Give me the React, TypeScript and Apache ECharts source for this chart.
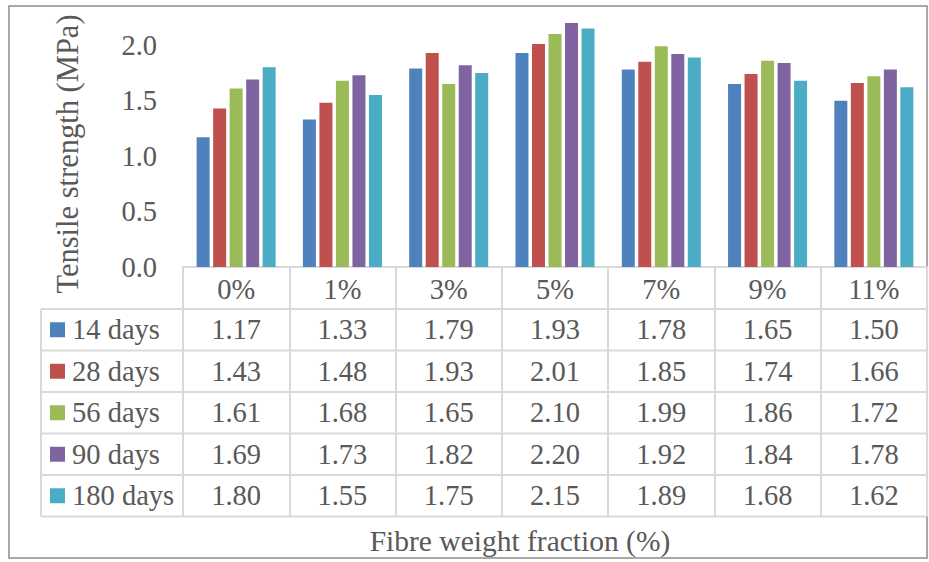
import React, { useEffect, useRef } from "react";
import * as echarts from "echarts";

const categories = ["0%", "1%", "3%", "5%", "7%", "9%", "11%"];
const seriesNames = ["14 days", "28 days", "56 days", "90 days", "180 days"];
const d14 = [1.17, 1.33, 1.79, 1.93, 1.78, 1.65, 1.5];
const d28 = [1.43, 1.48, 1.93, 2.01, 1.85, 1.74, 1.66];
const d56 = [1.61, 1.68, 1.65, 2.1, 1.99, 1.86, 1.72];
const d90 = [1.69, 1.73, 1.82, 2.2, 1.92, 1.84, 1.78];
const d180 = [1.8, 1.55, 1.75, 2.15, 1.89, 1.68, 1.62];
const seriesData = [d14, d28, d56, d90, d180];
const colors = ["#4F81BD", "#C0504D", "#9BBB59", "#8064A2", "#4BACC6"];
const yTitle = "Tensile strength (MPa)";
const xTitle = "Fibre weight fraction (%)";

const W = 929;
const H = 562;
const FONT = "Liberation Serif";
const TXT = "#595959";
const LINE = "#d9d9d9";
const FS = 28.5;

export default function App() {
  const ref = useRef<HTMLDivElement>(null);
  useEffect(() => {
    document.body.style.margin = "0";
    if (!ref.current) return;
    const chart = echarts.init(ref.current, undefined, { renderer: "svg" });

    const gridLeft = 183;
    const gridRightX = 927;
    const axisY = 267;
    const headerH = 42;
    const rowH = 41.5;
    const tableLeft = 41;
    const bandW = (gridRightX - gridLeft) / categories.length;
    const rowsTop = axisY + headerH;
    const tableBottom = rowsTop + rowH * seriesNames.length;

    const txt = (text: string, x: number, y: number, size: number, align: string, extra: any = {}) => ({
      type: "text",
      x,
      y,
      ...extra,
      style: {
        text,
        fontFamily: FONT,
        fontSize: size,
        fill: TXT,
        align,
        verticalAlign: "middle",
      },
      silent: true,
    });

    const graphics: any[] = [];
    graphics.push({
      type: "rect",
      shape: { x: 9, y: 6, width: 918, height: 552 },
      style: { fill: "none", stroke: "#8c8c8c", lineWidth: 1.5 },
      silent: true,
    });
    for (let i = 0; i <= seriesNames.length; i++) {
      const y = rowsTop + i * rowH;
      graphics.push({
        type: "line",
        shape: { x1: tableLeft, y1: y, x2: gridRightX, y2: y },
        style: { stroke: LINE, lineWidth: 2 },
        silent: true,
      });
    }
    graphics.push({
      type: "line",
      shape: { x1: tableLeft, y1: rowsTop, x2: tableLeft, y2: tableBottom },
      style: { stroke: LINE, lineWidth: 2 },
      silent: true,
    });
    seriesNames.forEach((name, si) => {
      const cy = rowsTop + si * rowH + rowH / 2;
      graphics.push({
        type: "rect",
        shape: { x: 50, y: cy - 7.5, width: 15, height: 15 },
        style: { fill: colors[si] },
        silent: true,
      });
      graphics.push(txt(name, 72, cy, FS, "left"));
      seriesData[si].forEach((v, ci) => {
        graphics.push(txt(v.toFixed(2), gridLeft + bandW * ci + bandW / 2, cy, FS, "center"));
      });
    });
    graphics.push(txt(yTitle, 68, 154, 30.5, "center", { rotation: Math.PI / 2 }));
    graphics.push(txt(xTitle, 520, 541, 29.5, "center"));

    chart.setOption({
      animation: false,
      backgroundColor: "#ffffff",
      textStyle: { fontFamily: FONT },
      grid: { left: gridLeft, right: W - gridRightX, top: 23, bottom: H - axisY, containLabel: false },
      xAxis: {
        type: "category",
        data: categories,
        axisLine: { show: true, lineStyle: { color: LINE, width: 2 } },
        axisTick: { show: true, length: tableBottom - axisY, interval: 0, lineStyle: { color: LINE, width: 2 } },
        axisLabel: {
          interval: 0,
          margin: 22,
          verticalAlign: "middle",
          fontFamily: FONT,
          fontSize: FS,
          color: TXT,
        },
        splitLine: { show: false },
      },
      yAxis: {
        type: "value",
        min: 0,
        max: 2.2,
        interval: 0.5,
        axisLine: { show: false },
        axisTick: { show: false },
        splitLine: { show: false },
        axisLabel: {
          margin: 26,
          showMaxLabel: false,
          fontFamily: FONT,
          fontSize: FS,
          color: TXT,
          formatter: (v: number) => v.toFixed(1),
        },
      },
      series: seriesNames.map((name, si) => ({
        name,
        type: "bar",
        data: seriesData[si],
        barWidth: 13,
        barGap: "27%",
        itemStyle: { color: colors[si] },
      })),
      graphic: graphics,
    });
    return () => chart.dispose();
  }, []);
  return <div ref={ref} style={{ width: W, height: H }} />;
}
